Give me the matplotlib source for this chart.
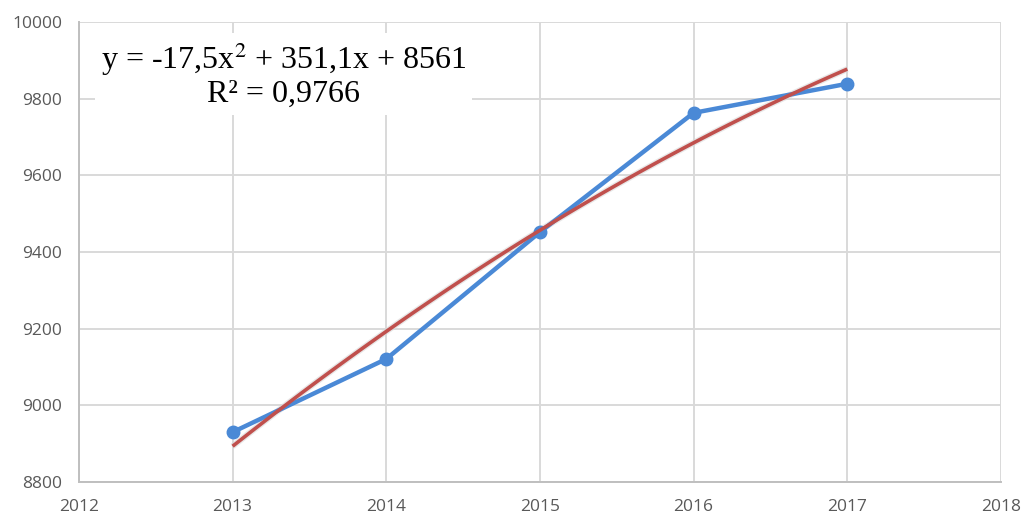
import numpy as np
import matplotlib.pyplot as plt

years = [2013, 2014, 2015, 2016, 2017]
values = [8930, 9121, 9452, 9763, 9839]
x_ticks = [2012, 2013, 2014, 2015, 2016, 2017, 2018]
y_ticks = [8800, 9000, 9200, 9400, 9600, 9800, 10000]


def main():
    fig = plt.figure(figsize=(10.24, 5.17), dpi=100)
    ax = fig.add_axes([0.0771, 0.0677, 0.9004, 0.8897])

    # polynomial trendline (order 2), x = 1..5 as in Excel
    idx = np.arange(1, len(years) + 1)
    coef = np.polyfit(idx, values, 2)
    xs = np.linspace(1, len(years), 100)
    trend = np.polyval(coef, xs)

    ax.plot(np.array(xs) + years[0] - 1, trend, color='#d9d9d9', lw=4.5,
            alpha=0.6, zorder=2, solid_capstyle='butt')
    ax.plot(np.array(xs) + years[0] - 1, trend, color='#c0504d', lw=2.6,
            zorder=4, solid_capstyle='butt')
    ax.plot(years, values, color='#4a89d6', lw=3.2, marker='o',
            markersize=9, zorder=3)

    ax.set_xlim(2012, 2018)
    ax.set_ylim(8800, 10000)
    ax.set_xticks(x_ticks)
    ax.set_yticks(y_ticks)
    ax.grid(True, color='#d9d9d9', lw=1.4)
    ax.set_axisbelow(True)
    for s in ['top', 'right']:
        ax.spines[s].set_visible(False)
    for s in ['left', 'bottom']:
        ax.spines[s].set_color('#bfbfbf')
        ax.spines[s].set_linewidth(1.4)
    ax.tick_params(length=0, labelsize=12.5, labelcolor='#595959', pad=12)
    for lab in ax.get_xticklabels() + ax.get_yticklabels():
        lab.set_fontfamily('Open Sans')

    ax.text(0.222, 0.885, 'y = -17,5x$^2$ + 351,1x + 8561\nR² = 0,9766',
            transform=ax.transAxes, ha='center', va='center',
            fontsize=23, family='Liberation Serif', linespacing=1.1,
            math_fontfamily='stix', zorder=5,
            bbox=dict(facecolor='white', edgecolor='none', pad=4))

    fig.savefig('out.png', dpi=100)


if __name__ == '__main__':
    main()
